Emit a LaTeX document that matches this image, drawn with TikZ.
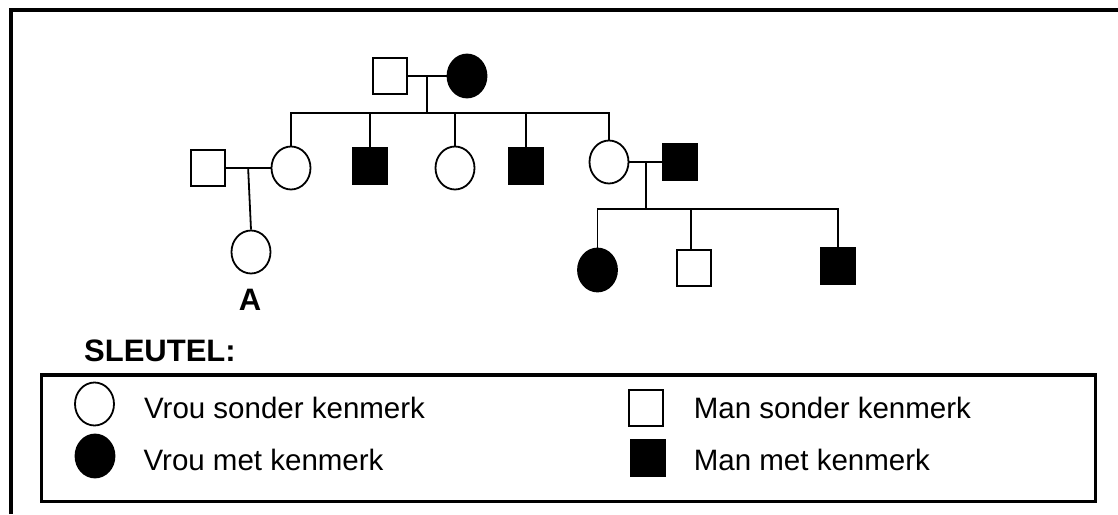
\documentclass[tikz,border=0pt]{standalone}
\usepackage{fontspec}
\setmainfont{Liberation Sans}
\usetikzlibrary{calc,shapes.geometric}

\tikzset{
  man/.style={draw,rectangle,minimum width=33.5pt,minimum height=36pt,inner sep=0pt,line width=1.8pt},
  vrou/.style={draw,ellipse,minimum width=39pt,minimum height=43pt,inner sep=0pt,line width=1.8pt},
  kenmerk/.style={fill=black},
  lyn/.style={line width=1.8pt},
  sleuteltext/.style={anchor=base west,inner sep=0pt,font=\fontsize{29.5}{35}\selectfont},
  boldtext/.style={inner sep=0pt,font=\fontsize{31}{37}\selectfont\bfseries}
}

\begin{document}
\begin{tikzpicture}[x=1pt,y=-1pt]
\useasboundingbox (0,0) rectangle (1118,514);
\draw[line width=4pt] (10.5,514) -- (10.5,9.5) -- (1118,9.5);

\draw node[man] (gf) at (390,76) {};
\draw node[vrou,kenmerk] (gm) at (467,76) {};

\draw node[man] (hu1) at (208,168) {};
\draw node[vrou] (d1) at (291,168) {};
\draw node[man,kenmerk] (s2) at (370,166) {};
\draw node[vrou] (d3) at (455,168) {};
\draw node[man,kenmerk] (s4) at (526,166) {};
\draw node[vrou] (d5) at (609,162) {};
\draw node[man,kenmerk] (hu5) at (680,162) {};

\draw node[vrou] (A) at (251,252) {};
\draw node[vrou,kenmerk] (k1) at (597.5,270) {};
\draw node[man] (k2) at (694,268) {};
\draw node[man,kenmerk] (k3) at (838,266) {};

\coordinate (bar1) at (0,113.3);
\coordinate (bar2) at (0,209.3);
\coordinate (g1) at ($(gf.east)!0.5!(gm.west)$);
\coordinate (g2) at ($(hu1.east)!0.5!(d1.west)$);
\coordinate (g3) at ($(d5.east)!0.5!(hu5.west)$);

\draw[lyn] (gf.east) -- (gm.west);
\draw[lyn] (g1) -- (g1 |- bar1);
\draw[lyn] (d1.north) -- (d1.north |- bar1) -- (d5.north |- bar1) -- (d5.north);
\foreach \kind in {s2,d3,s4}
  \draw[lyn] (\kind.north) -- (\kind.north |- bar1);

\draw[lyn] (hu1.east) -- (d1.west);
\draw[lyn] (g2) -- (A.north);

\draw[lyn] (d5.east) -- (hu5.west);
\draw[lyn] (g3) -- (g3 |- bar2);
\draw[lyn] (k1.north) -- (k1.north |- bar2) -- (k3.north |- bar2) -- (k3.north);
\draw[lyn] ($(k2.north)+(-3,0)$) -- ($(k2.north |- bar2)+(-3,0)$);

\draw node[boldtext,anchor=base] at (250,310) {A};
\draw node[boldtext,anchor=base west] at (84,361.7) {SLEUTEL:};

\draw[line width=3.5pt] (41.3,375) rectangle (1095.5,501.5);
\draw node[vrou] (le1) at (94.5,404) {};
\draw node[vrou,kenmerk] (le2) at (95,456) {};
\draw node[man] (le3) at (646,408) {};
\draw node[man,kenmerk] (le4) at (648,458) {};
\draw node[sleuteltext] at ($(le1.east |- 0,418.3)+(29,0)$) {Vrou sonder kenmerk};
\draw node[sleuteltext] at ($(le2.east |- 0,470)+(28,0)$) {Vrou met kenmerk};
\draw node[sleuteltext] at ($(le3.east |- 0,418.3)+(30,0)$) {Man sonder kenmerk};
\draw node[sleuteltext] at ($(le3.east |- 0,470)+(30,0)$) {Man met kenmerk};
\end{tikzpicture}
\end{document}
